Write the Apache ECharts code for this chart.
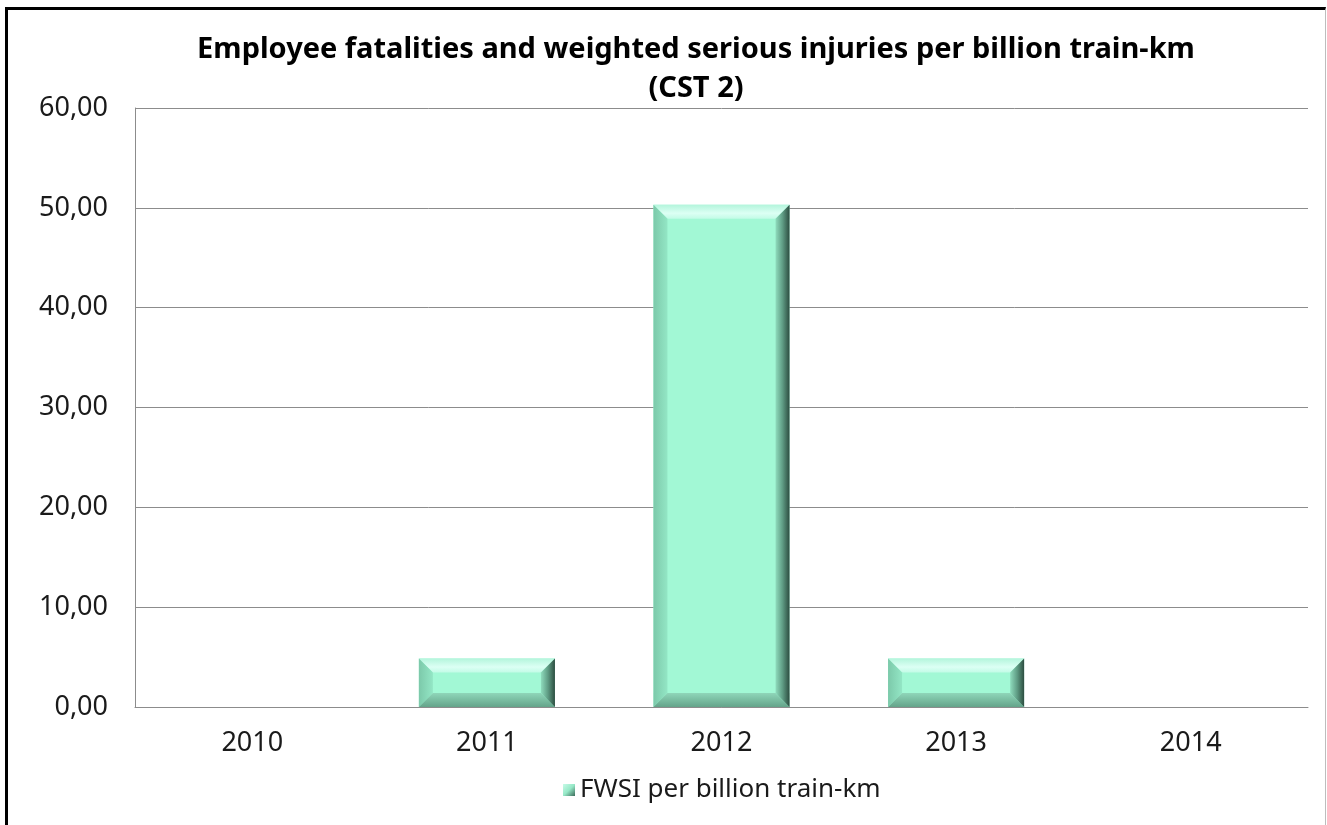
<!DOCTYPE html>
<html>
<head>
<meta charset="utf-8">
<title>Employee fatalities and weighted serious injuries per billion train-km (CST 2)</title>
<script src="https://cdn.jsdelivr.net/npm/echarts@6/dist/echarts.min.js"></script>
<style>
  html, body { margin: 0; padding: 0; background: #fff; }
  #chart { width: 1327px; height: 825px; }
  #frame {
    position: absolute; left: 5px; top: 7px; width: 1317px; height: 830px;
    border-left: 3px solid #000; border-top: 3px solid #000; border-right: 1px solid #bdbdbd;
    pointer-events: none;
  }
</style>
</head>
<body>
<div id="chart"></div>
<div id="frame"></div>
<script>
// data
const years = ['2010', '2011', '2012', '2013', '2014'];
const fwsiValues = [0, 4.85, 50.3, 4.85, 0];
const seriesName = 'FWSI per billion train-km';
const titleText = 'Employee fatalities and weighted serious injuries per billion train-km\n(CST 2)';

const fontFamily = '"Noto Sans", "Open Sans", sans-serif';

const chart = echarts.init(document.getElementById('chart'));

// bar drawn with a bevel, like the Excel original
function renderBevelBar(params, api) {
  let top = api.coord([api.value(0), api.value(1)]);
  let base = api.coord([api.value(0), 0]);
  let w = api.size([1, 0])[0] * 0.58;
  let x0 = top[0] - w / 2, x1 = top[0] + w / 2;
  let y0 = top[1], y1 = base[1];
  let h = y1 - y0;
  if (h <= 0.5) {
    return;
  }
  let b = Math.min(14, h / 3, w / 3);
  return {
    type: 'group',
    children: [
      {
        type: 'rect',
        shape: {x: x0, y: y0, width: w, height: h},
        style: {fill: '#a2f8d5'}
      },
      // top edge
      {
        type: 'polygon',
        shape: {points: [[x0, y0], [x1, y0], [x1 - b, y0 + b], [x0 + b, y0 + b]]},
        style: {
          fill: new echarts.graphic.LinearGradient(0, 0, 0, 1, [
            {offset: 0, color: '#b4f5dc'},
            {offset: 0.6, color: '#dcfff4'},
            {offset: 1, color: '#c2fbe6'}
          ])
        }
      },
      // left edge
      {
        type: 'polygon',
        shape: {points: [[x0, y0], [x0 + b, y0 + b], [x0 + b, y1 - b], [x0, y1]]},
        style: {
          fill: new echarts.graphic.LinearGradient(0, 0, 1, 0, [
            {offset: 0, color: '#7cc9aa'},
            {offset: 1, color: '#93e6c5'}
          ])
        }
      },
      // bottom edge
      {
        type: 'polygon',
        shape: {points: [[x0, y1], [x0 + b, y1 - b], [x1 - b, y1 - b], [x1, y1]]},
        style: {
          fill: new echarts.graphic.LinearGradient(0, 0, 0, 1, [
            {offset: 0, color: '#8fd6b9'},
            {offset: 1, color: '#64a48a'}
          ])
        }
      },
      // right edge
      {
        type: 'polygon',
        shape: {points: [[x1, y0], [x1, y1], [x1 - b, y1 - b], [x1 - b, y0 + b]]},
        style: {
          fill: new echarts.graphic.LinearGradient(0, 0, 1, 0, [
            {offset: 0, color: '#8fdcbd'},
            {offset: 0.5, color: '#5f9c84'},
            {offset: 1, color: '#2c4d40'}
          ])
        }
      }
    ]
  };
}

let barData = [];
for (let i = 0; i < years.length; i++) {
  barData.push([i, fwsiValues[i]]);
}

let option = {
  animation: false,
  backgroundColor: '#fff',
  title: {
    text: titleText,
    left: 691,
    top: 25,
    textAlign: 'center',
    textStyle: {
      fontFamily: fontFamily,
      fontSize: 29,
      fontWeight: 'bold',
      color: '#000',
      lineHeight: 39
    }
  },
  legend: {
    data: [seriesName],
    left: 563,
    top: 777,
    padding: 0,
    itemWidth: 12,
    itemHeight: 12,
    icon: 'rect',
    textStyle: {fontFamily: fontFamily, fontSize: 26, color: '#1a1a1a'}
  },
  grid: {
    left: 135,
    right: 19,
    top: 108,
    bottom: 118
  },
  xAxis: {
    type: 'category',
    data: years,
    axisLine: {lineStyle: {color: '#8c8c8c', width: 1}},
    axisTick: {show: false},
    axisLabel: {
      margin: 23,
      fontFamily: fontFamily,
      fontSize: 27,
      color: '#1a1a1a'
    }
  },
  yAxis: {
    type: 'value',
    min: 0,
    max: 60,
    interval: 10,
    axisLine: {show: true, lineStyle: {color: '#8c8c8c', width: 1}},
    axisTick: {show: false},
    splitLine: {lineStyle: {color: '#8c8c8c', width: 1}},
    axisLabel: {
      margin: 27,
      fontFamily: fontFamily,
      fontSize: 27,
      color: '#1a1a1a',
      formatter: function (value) {
        return value.toFixed(2).replace('.', ',');
      }
    }
  },
  series: [
    {
      name: seriesName,
      type: 'custom',
      renderItem: renderBevelBar,
      encode: {x: 0, y: 1},
      itemStyle: {
        color: new echarts.graphic.LinearGradient(0, 0, 1, 1, [
          {offset: 0, color: '#c8fbe8'},
          {offset: 0.5, color: '#96e8c7'},
          {offset: 1, color: '#3b6b59'}
        ])
      },
      data: barData
    }
  ]
};

chart.setOption(option);
</script>
</body>
</html>
